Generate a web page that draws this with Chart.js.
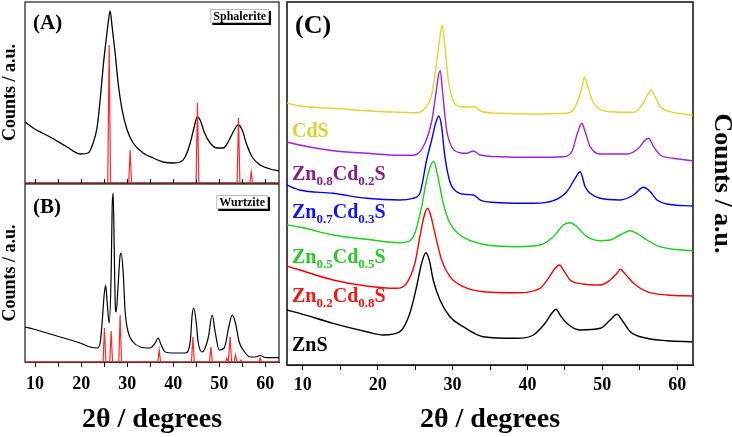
<!DOCTYPE html>
<html>
<head>
<meta charset="utf-8">
<script src="https://cdn.jsdelivr.net/npm/chart.js@4.4.1/dist/chart.umd.min.js"></script>
<style>
html,body{margin:0;padding:0;background:#fff;}
#wrap{position:relative;width:732px;height:437px;overflow:hidden;background:#fff;}
canvas{position:absolute;}
</style>
</head>
<body>
<div id="wrap">
  <canvas id="cA" width="290" height="185" style="left:0;top:0"></canvas>
  <canvas id="cB" width="290" height="254" style="left:0;top:183px"></canvas>
  <canvas id="cC" width="452" height="437" style="left:280px;top:0"></canvas>
</div>
<script>
// x ticks shared by all panels (labels every 10, minor marks every 5)
const tickValues = [10,15,20,25,30,35,40,45,50,55,60];

// (A) sphalerite pattern + reference sticks
const sphalTheta = [7.83,9.57,13.26,16.96,19.78,21.52,22.61,23.48,24.13,24.78,25.43,25.87,26.30,26.74,27.39,28.04,28.91,30.0,31.30,33.48,35.65,37.83,40.0,41.52,42.61,43.70,44.57,45.22,45.87,46.74,48.04,49.57,50.87,51.96,53.04,54.13,55.0,55.87,57.17,58.91,61.09,63.0];
const sphalCounts = [61,55,46,36,29,30,40,56,83,116,143,160,172,156,130,100,73,53,40,30,25,21,20,21,26,40,56,66,63,51,40,35,35,41,51,58,53,40,26,18,14,12];
const sphalRefTheta = [26.09,30.65,45.28,54.2,56.96];
const sphalRefHeight = [138,33,80,65,11];

// (B) wurtzite pattern + reference sticks
const wurtTheta = [7.83,9.57,13.26,16.96,19.78,21.96,23.48,24.13,24.57,25.0,25.33,25.65,26.09,26.52,26.74,26.96,27.17,27.39,27.61,28.04,28.48,28.70,29.13,29.57,30.22,31.30,32.83,35.0,36.09,36.74,37.39,38.26,39.78,42.61,43.70,44.13,44.46,45.0,45.43,46.30,47.61,48.48,49.13,50.0,51.09,52.17,52.83,53.48,54.35,55.22,56.74,57.83,58.91,60.0,61.09,63.0];
const wurtCounts = [35,33,28,23,19,15,14,19,40,67,77,60,39,87,154,169,120,60,50,77,107,109,90,50,30,20,15,14,19,24,17,10,9,9,20,47,54,40,20,10,24,47,30,12,14,37,47,40,20,12,5,5,6.5,4.5,4.3,4.3];
const wurtRefTheta = [25.07,26.52,28.48,36.96,44.28,48.2,51.67,52.39,53.54,54.72,58.91];
const wurtRefHeight = [34,31,47,12,25,15,4,25,7,2,4];

// (C) stacked patterns
const znsTheta = [7.86,9.60,14.05,18.52,20.74,22.97,24.30,25.20,25.87,26.44,26.89,27.42,28.32,29.65,31.43,34.10,38.57,40.79,42.35,43.25,43.82,44.36,45.25,47.03,49.71,51.04,51.94,52.61,53.72,55.95,58.62,62.05];
const znsCounts = [55,51.7,41.7,33.3,30,33.3,51.7,78.3,101.7,112.3,105,85,65,48.3,38.3,28.3,26.7,30,41.7,51.7,55.7,50,41.7,35,36.7,45,50.7,45,33.3,26.7,24.3,23.3];
const zn2Theta = [7.86,9.60,14.05,18.52,22.53,23.86,24.97,25.64,26.18,26.67,27.07,27.65,28.54,29.65,31.43,34.10,38.57,41.68,42.79,43.69,44.26,44.80,45.70,47.47,49.71,51.04,51.94,52.38,53.05,54.16,55.95,58.62,62.05];
const zn2Counts = [99,95,85,79,76.7,81.7,101.7,128.3,148.3,156.7,150,131.7,105,88.3,78.3,73.3,72.3,76.7,86.7,96.7,100,95,85,81,80,85,91.7,95.7,91,81.7,73.3,70,69];
const zn5Theta = [7.86,9.60,14.05,18.52,22.97,24.08,24.97,25.87,26.54,27.21,27.51,27.95,28.32,28.76,29.65,30.99,32.77,34.56,38.57,41.68,43.46,44.80,45.70,46.59,47.93,49.71,51.04,52.38,53.72,54.61,55.95,57.73,59.51,62.05];
const zn5Counts = [140,138,130,125.7,122.3,123.3,131.7,158.3,185,201.7,203.3,191.7,178,161.7,141.7,130,123.3,120,118.3,120,128.3,140,142.3,138.3,128.3,124.3,125,130,134.3,131.7,125,118.3,115.7,114.3];
const zn7Theta = [7.86,9.60,14.05,18.52,22.97,24.71,25.64,26.54,27.21,27.74,28.18,28.54,28.98,29.65,30.55,31.89,32.77,33.89,36.34,40.79,43.46,45.25,46.37,47.03,47.70,48.37,49.71,52.38,54.16,55.49,56.39,57.29,58.62,62.05];
const zn7Counts = [180,175,171.7,166.7,165,166.7,171.7,205,225,241.7,249,238.3,208.3,183.3,173.3,170.5,170,164.3,162.3,161.7,164.3,173.3,186.7,193.3,178.3,171.7,166.7,165,170,177.7,173.3,165,161,159];
const zn8Theta = [7.86,9.60,14.05,18.52,22.97,24.97,26.31,27.25,27.78,28.09,28.36,28.68,29.21,29.88,30.99,31.89,32.77,33.66,36.34,40.79,44.80,45.92,46.67,47.26,47.70,48.37,49.71,53.28,54.83,55.72,56.16,56.83,57.73,59.51,62.05];
const zn8Counts = [223,220,214.3,211.7,209.7,210,221.7,245,271.7,288.3,294.3,271.7,235,218.3,212.3,211.7,214,210,208.3,207.7,208.3,213.3,231.7,241.7,233.3,218.3,211,211,216.7,225,226.7,218.3,210,206.7,204.3];
const cdsTheta = [7.86,9.60,14.05,18.52,22.97,25.20,26.31,27.25,27.91,28.32,28.62,28.98,29.43,30.05,30.99,32.06,32.77,33.89,36.34,40.79,45.25,46.10,46.76,47.30,47.61,47.97,48.64,49.44,51.04,54.12,55.45,56.12,56.48,56.93,57.73,59.06,62.05];
const cdsCounts = [262,259,256.7,254.3,252.7,252.3,256.7,271.7,305,328.3,340,318.3,285,265,258.5,258,258.5,253.5,251.7,251,251.7,255,265,278.3,287.7,280,265,256.7,253.3,252.7,261.7,271.7,275,270,258.3,253.3,250];

const seriesNames = ['ZnS','Zn0.2Cd0.8S','Zn0.5Cd0.5S','Zn0.7Cd0.3S','Zn0.8Cd0.2S','CdS'];
const seriesTheta = [znsTheta, zn2Theta, zn5Theta, zn7Theta, zn8Theta, cdsTheta];
const seriesCounts = [znsCounts, zn2Counts, zn5Counts, zn7Counts, zn8Counts, cdsCounts];

const FONT = "'Liberation Serif','Times New Roman',serif";
const lineColors = ['#000000','#ff0000','#14d414','#0000ff','#a020e8','#e6d42c'];
const labelColors = ['#000000','#ff1010','#22cc22','#1010ff','#8b1a8b','#dccf2e'];

Chart.defaults.color = '#000';
Chart.defaults.font.family = FONT;

function pts(xs, ys){ return xs.map((x,i)=>({x:x, y:ys[i]})); }
// reference pattern: thin spikes on a zero baseline
function sticks(pos, h, lo, hi){
  const d = [{x:lo, y:0}];
  pos.forEach((p,i)=>{ d.push({x:p-0.3,y:0},{x:p,y:h[i]},{x:p+0.3,y:0}); });
  d.push({x:hi, y:0});
  return d;
}

function xAxis(min, max, show, h, pad){
  return {
    type:'linear', min:min, max:max, display:show,
    afterBuildTicks: s => { s.ticks = tickValues.map(v=>({value:v})); },
    afterFit: s => { s.height = h; },
    ticks:{ autoSkip:false, maxRotation:0, padding:pad, color:'#000',
      font:{family:FONT, size:18, weight:'bold'},
      callback: v => v % 10 === 0 ? String(v) : '' },
    grid:{ drawOnChartArea:false, drawTicks:true, tickLength:5, color:'#000' },
    border:{ display:true, color:'#000', width:1 },
    title:{ display:true, text:'2θ / degrees', color:'#000',
      font:{family:FONT, size:28, weight:'bold'}, padding:{top:0, bottom:0} }
  };
}
function yAxis(max, pos, w, size, lh){
  return {
    type:'linear', min:0, max:max, position:pos,
    afterFit: s => { s.width = w; },
    ticks:{ display:false }, grid:{ display:false }, border:{ display:false },
    title:{ display:true, text:'Counts / a.u.', color:'#000',
      font:{family:FONT, size:size, weight:'bold', lineHeight:lh}, padding:0 }
  };
}

function drawFormula(ctx, name, x, y, color){
  let cx = x;
  name.split(/(\d+\.\d+)/).forEach((p,i)=>{
    if(!p) return;
    const sub = i % 2 === 1;
    ctx.font = 'bold ' + (sub ? 13 : 20) + 'px ' + FONT;
    ctx.fillStyle = color;
    ctx.fillText(p, cx, sub ? y + 5 : y);
    cx += ctx.measureText(p).width;
  });
}

function panelDeco(o){
  return {
    id:'deco',
    beforeDatasetsDraw(chart){
      const {ctx, chartArea:a} = chart;
      ctx.save(); ctx.strokeStyle = '#1a1a1a'; ctx.lineWidth = o.frame || 1.2;
      ctx.strokeRect(a.left, a.top, a.right - a.left, a.bottom - a.top);
      ctx.restore();
    },
    afterDraw(chart){
      const {ctx, chartArea:a} = chart;
      ctx.save();
      if(o.innerTicks){
        const sx = chart.scales.x;
        ctx.strokeStyle = '#000'; ctx.lineWidth = 1;
        tickValues.forEach(v=>{ const px = Math.round(sx.getPixelForValue(v)) + 0.5; ctx.beginPath(); ctx.moveTo(px, a.bottom); ctx.lineTo(px, a.bottom - 4); ctx.stroke(); });
      }
      if(o.letter){
        ctx.fillStyle = '#000'; ctx.font = 'bold ' + o.letter.size + 'px ' + FONT;
        ctx.textBaseline = 'alphabetic';
        ctx.fillText(o.letter.text, o.letter.x, o.letter.y);
      }
      if(o.box){
        const b = o.box;
        ctx.font = 'bold 12px ' + FONT;
        const w = ctx.measureText(b.text).width + 6, h = 14;
        const x = a.right - b.dx - w, y = a.top + b.dy;
        ctx.fillStyle = '#000'; ctx.fillRect(x + 2, y + 2, w, h);
        ctx.fillStyle = '#fff'; ctx.fillRect(x, y, w, h);
        ctx.strokeStyle = '#bbb'; ctx.lineWidth = 1; ctx.strokeRect(x + 0.5, y + 0.5, w - 1, h - 1);
        ctx.fillStyle = '#000'; ctx.textBaseline = 'middle';
        ctx.fillText(b.text, x + 3, y + h / 2 + 1);
      }
      if(o.labels){
        ctx.textBaseline = 'alphabetic';
        seriesNames.forEach((n,i)=> drawFormula(ctx, n, a.left + 5, o.labels[i], labelColors[i]));
      }
      ctx.restore();
    }
  };
}

const common = { responsive:false, animation:false, events:[],
  plugins:{ legend:{display:false}, tooltip:{enabled:false} } };

// panel A
new Chart(document.getElementById('cA'), {
  type:'scatter',
  data:{ datasets:[
    { data: sticks(sphalRefTheta, sphalRefHeight, 7.8, 63), borderColor:'#ff2a2a', borderWidth:1.2, showLine:true, pointRadius:0, tension:0, clip:3 },
    { data: pts(sphalTheta, sphalCounts), borderColor:'#000', borderWidth:1.3, showLine:true, pointRadius:0, cubicInterpolationMode:'monotone' }
  ]},
  options: Object.assign({}, common, {
    layout:{ padding:{left:0, top:2, right:11, bottom:2} },
    scales:{ x: xAxis(7.8, 63, false, 0, 0), y: yAxis(181, 'left', 25, 18, 1.1) }
  }),
  plugins:[ panelDeco({ innerTicks:true, letter:{text:'(A)', size:21, x:33, y:29}, box:{text:'Sphalerite', dx:10, dy:7} }) ]
});

// panel B
new Chart(document.getElementById('cB'), {
  type:'scatter',
  data:{ datasets:[
    { data: sticks(wurtRefTheta, wurtRefHeight, 7.8, 63), borderColor:'#ff2a2a', borderWidth:1.2, showLine:true, pointRadius:0, tension:0, clip:3 },
    { data: pts(wurtTheta, wurtCounts), borderColor:'#000', borderWidth:1.2, showLine:true, pointRadius:0, cubicInterpolationMode:'monotone' }
  ]},
  options: Object.assign({}, common, {
    layout:{ padding:{left:0, top:1, right:11, bottom:0} },
    scales:{ x: xAxis(7.8, 63, true, 75, 7), y: yAxis(178, 'left', 25, 18, 1.1) }
  }),
  plugins:[ panelDeco({ letter:{text:'(B)', size:21, x:33, y:30}, box:{text:'Wurtzite', dx:11, dy:11} }) ]
});

// panel C
new Chart(document.getElementById('cC'), {
  type:'scatter',
  data:{ datasets: seriesNames.map((n,i)=>({
    label:n, data: pts(seriesTheta[i], seriesCounts[i]), borderColor: lineColors[i], borderWidth:1.4,
    showLine:true, pointRadius:0, cubicInterpolationMode:'monotone' })) },
  options: Object.assign({}, common, {
    layout:{ padding:{left:7, top:2, right:0, bottom:0} },
    scales:{ x: xAxis(7.9, 62.1, true, 72, 5), y: yAxis(363, 'right', 39, 26, 0.8) }
  }),
  plugins:[ panelDeco({ frame:1.6, letter:{text:'(C)', size:26, x:15, y:33}, labels:[351,302,263,218,180,137] }) ]
});
</script>
</body>
</html>
